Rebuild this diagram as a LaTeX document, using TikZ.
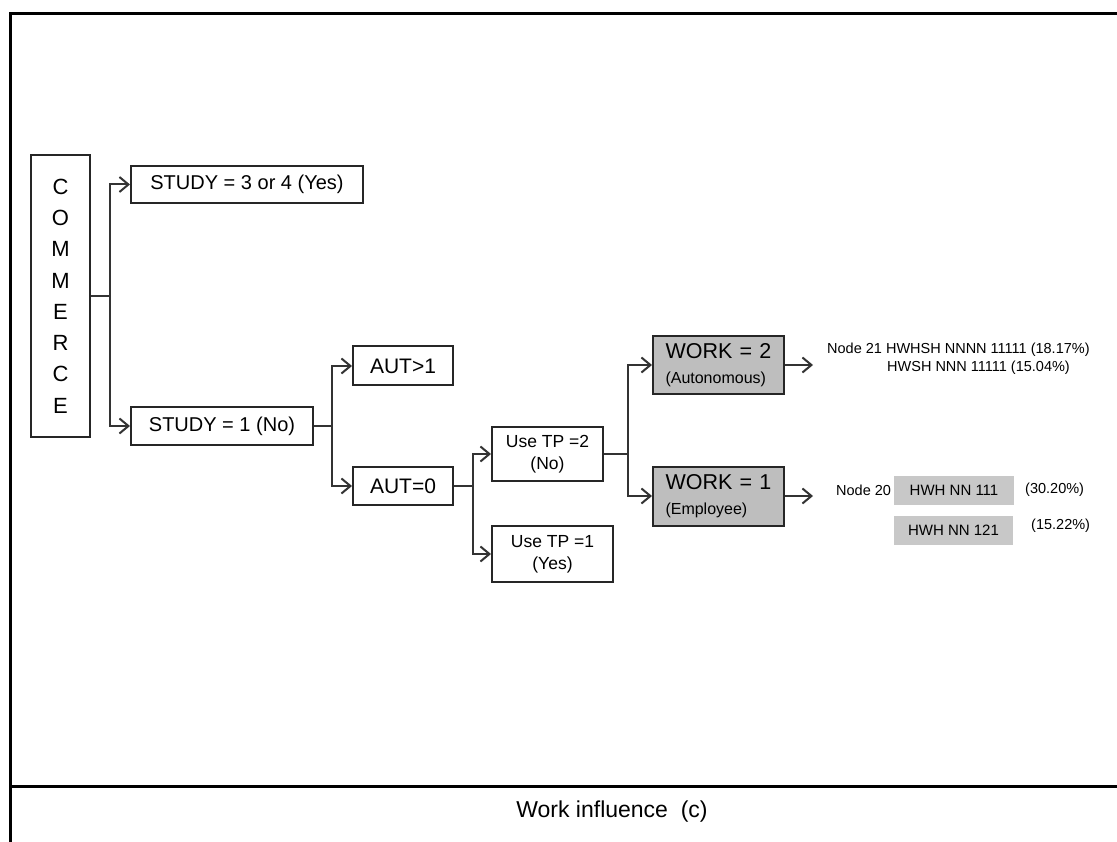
\documentclass[tikz,border=0pt]{standalone}
\usepackage{fontspec}
\setmainfont{Liberation Sans}
\usetikzlibrary{arrows.meta}
\definecolor{workgray}{RGB}{190,190,190}
\definecolor{leafgray}{RGB}{200,200,200}
\newcommand{\fs}[1]{\fontsize{#1}{#1}\selectfont}
\begin{document}
\begin{tikzpicture}[x=1pt,y=-1pt,
  box/.style={draw=black!85, line width=2pt, fill=white, inner sep=0pt, align=center},
  workbox/.style={box, fill=workgray, align=left, text width=106pt},
  leafbox/.style={fill=leafgray, inner sep=0pt, font=\fs{15}},
  leaftext/.style={inner sep=0pt, anchor=west, font=\fs{14.5}},
  link/.style={draw=black!80, line width=2pt},
  arr/.style={link, -{Straight Barb[length=9pt,width=15pt,line width=2pt]}}]
\useasboundingbox (0,0) rectangle (1117,842);

% frame and caption strip
\draw[line width=3pt] (10,842) -- (10,14) -- (1117,14);
\draw[line width=3pt] (10,786) -- (1117,786);
\node[font=\fs{23}] (caption) at (612,812) {Work influence \ (c)};

% root
\node[box, minimum width=59pt, minimum height=282pt,
      font={\fontsize{22}{31.3}\selectfont}] (commerce) at (60.5,296)
      {C\\O\\M\\M\\E\\R\\C\\E};

% first split
\node[box, minimum width=232pt, minimum height=37pt, font=\fs{20}] (s34) at (247,184.5) {STUDY = 3 or 4 (Yes)};
\node[box, minimum width=182pt, minimum height=38pt, font=\fs{20}] (s1) at (222,426) {STUDY = 1 (No)};

% second split
\node[box, minimum width=100pt, minimum height=39pt, font=\fs{21}] (aut1) at (403,366) {AUT>1};
\node[box, minimum width=100pt, minimum height=38pt, font=\fs{21}] (aut0) at (403,486) {AUT=0};

% third split
\node[box, minimum width=111pt, minimum height=54pt, font={\fontsize{17.5}{22}\selectfont}] (tp2) at (547.5,454) {Use TP =2\\(No)};
\node[box, minimum width=121pt, minimum height=56pt, font={\fontsize{17.5}{22}\selectfont}] (tp1) at (552.5,554) {Use TP =1\\(Yes)};

% work split
\node[workbox, minimum width=131pt, minimum height=58pt, font={\fontsize{21.5}{25}\selectfont}] (w2) at (718.5,365)
  {WORK = 2\\{\fs{16}(Autonomous)}};
\node[workbox, minimum width=131pt, minimum height=59pt, font={\fontsize{21.5}{25}\selectfont}] (w1) at (718.5,496)
  {WORK = 1\\{\fs{16}(Employee)}};

% terminal nodes
\node[leaftext] (n21a) at (827,350) {Node 21 HWHSH NNNN 11111 (18.17\%)};
\node[leaftext] (n21b) at (887,368) {HWSH NNN 11111 (15.04\%)};
\node[leaftext] (n20) at (836,490) {Node 20};
\node[leafbox, minimum width=120pt, minimum height=29pt] (h111) at (954,490.5) {HWH NN 111};
\node[leaftext] (p111) at (1025,490) {(30.20\%)};
\node[leafbox, minimum width=119pt, minimum height=29pt] (h121) at (953.5,530.5) {HWH NN 121};
\node[leaftext] (p121) at (1031,526) {(15.22\%)};

% junctions
\coordinate (j1) at (110,296);
\coordinate (j2) at (332,426);
\coordinate (j3) at (473,486);
\coordinate (j4) at (628,454);
\coordinate (t21) at (813,365);
\coordinate (t20) at (813,496);

% connectors
\draw[link] (commerce.east) -- (j1);
\draw[arr] (j1) |- (s34.west);
\draw[arr] (j1) |- (s1.west);
\draw[link] (s1.east) -- (j2);
\draw[arr] (j2) |- (aut1.west);
\draw[arr] (j2) |- (aut0.west);
\draw[link] (aut0.east) -- (j3);
\draw[arr] (j3) |- (tp2.west);
\draw[arr] (j3) |- (tp1.west);
\draw[link] (tp2.east) -- (j4);
\draw[arr] (j4) |- (w2.west);
\draw[arr] (j4) |- (w1.west);
\draw[arr] (w2.east) -- (t21);
\draw[arr] (w1.east) -- (t20);
\end{tikzpicture}
\end{document}
